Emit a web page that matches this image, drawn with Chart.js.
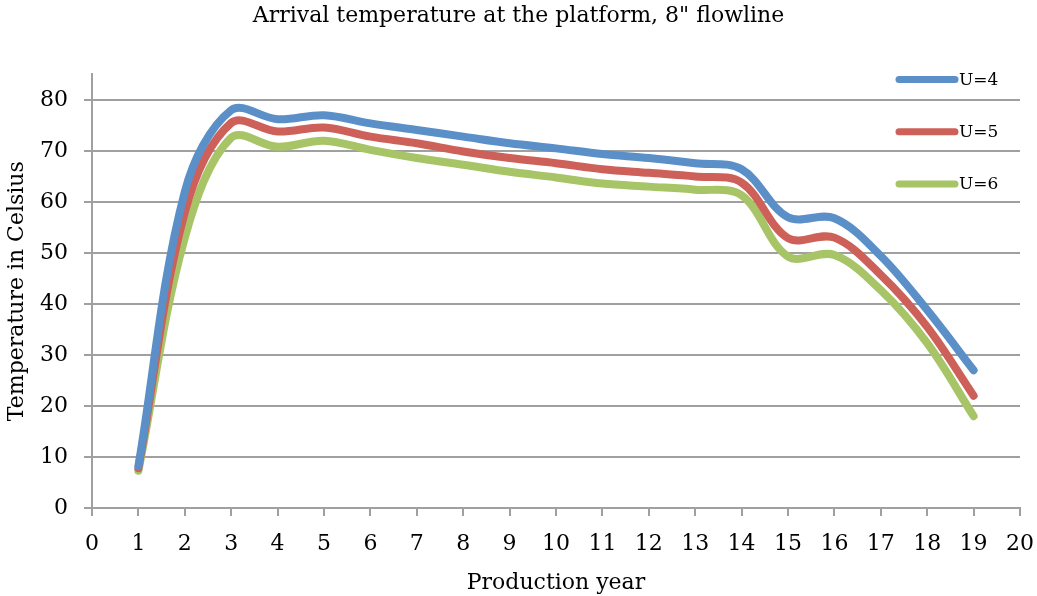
<!DOCTYPE html>
<html>
<head>
<meta charset="utf-8">
<script src="https://cdn.jsdelivr.net/npm/chart.js@4.4.0/dist/chart.umd.min.js"></script>
<style>
  html, body { margin: 0; padding: 0; background: #fff; }
  #wrap { width: 1037px; height: 596px; }
</style>
</head>
<body>
<div id="wrap"><canvas id="chart" width="1037" height="596"></canvas></div>
<script>
// production years and arrival temperatures
var years = [1, 2, 3, 4, 5, 6, 7, 8, 9, 10, 11, 12, 13, 14, 15, 16, 17, 18, 19];
var tempU4 = [8.2, 62, 78, 76.2, 77, 75.4, 74.1, 72.8, 71.5, 70.5, 69.4, 68.6, 67.6, 66.4, 57, 56.8, 49.4, 38.8, 27];
var tempU5 = [7.8, 58, 75.5, 73.8, 74.6, 72.8, 71.5, 69.9, 68.6, 67.6, 66.4, 65.7, 65, 63.8, 52.9, 53, 45.7, 35.5, 22];
var tempU6 = [7.3, 53, 72.6, 70.8, 72, 70.2, 68.6, 67.3, 65.9, 64.8, 63.6, 63, 62.4, 61.3, 49.3, 49.6, 42.7, 32.3, 18];
var seriesNames = ['U=4', 'U=5', 'U=6'];
var seriesColors = ['#5b8fc8', '#cd6159', '#a7c467'];

var FONT = '"DejaVu Serif", serif';
var GRID = '#a0a0a0';

function pts(values) {
    return years.map(function(x, i) { return { x: x, y: values[i] }; });
}

// legend drawn at the upper right, inside the plot like the original
var sideLegend = {
    id: 'sideLegend',
    afterDraw: function(chart) {
        var ctx = chart.ctx;
        var area = chart.chartArea;
        ctx.save();
        chart.data.datasets.forEach(function(ds, i) {
            var y = area.top + 5 + i * 52.3;
            var x0 = area.right - 121;
            ctx.strokeStyle = ds.borderColor;
            ctx.lineWidth = 7;
            ctx.lineCap = 'round';
            ctx.beginPath();
            ctx.moveTo(x0, y);
            ctx.lineTo(x0 + 56, y);
            ctx.stroke();
            ctx.fillStyle = '#000';
            ctx.font = '17px ' + FONT;
            ctx.textBaseline = 'middle';
            ctx.textAlign = 'left';
            ctx.fillText(ds.label, x0 + 60, y + 1);
        });
        ctx.restore();
    }
};

var ctx = document.getElementById('chart').getContext('2d');
var chart = new Chart(ctx, {
    type: 'line',
    data: {
        datasets: [tempU4, tempU5, tempU6].map(function(v, i) {
            return {
                label: seriesNames[i],
                data: pts(v),
                borderColor: seriesColors[i],
                backgroundColor: seriesColors[i],
                borderWidth: 8,
                borderCapStyle: 'round',
                borderJoinStyle: 'round',
                pointRadius: 0,
                tension: 0.35,
                fill: false
            };
        })
    },
    options: {
        responsive: false,
        animation: false,
        layout: { padding: 0 },
        plugins: {
            legend: { display: false },
            tooltip: { enabled: false },
            title: {
                display: true,
                text: 'Arrival temperature at the platform, 8" flowline',
                color: '#000',
                font: { family: FONT, size: 22, weight: 'normal' },
                padding: { top: 3, bottom: 45 }
            }
        },
        scales: {
            x: {
                type: 'linear',
                min: 0,
                max: 20,
                ticks: { stepSize: 1, color: '#000', font: { family: FONT, size: 22 }, padding: 15, maxRotation: 0 },
                grid: { drawOnChartArea: false, color: GRID, lineWidth: 2, tickLength: 8 },
                border: { color: GRID, width: 2 },
                title: {
                    display: true,
                    text: 'Production year',
                    color: '#000',
                    font: { family: FONT, size: 22 },
                    padding: { top: 0, bottom: 0 }
                },
                afterFit: function(s) {
                    s.height = 88;
                    s.paddingLeft = 0;
                    s.paddingRight = 17;
                }
            },
            y: {
                min: 0,
                max: 85,
                bounds: 'data',
                ticks: { stepSize: 10, color: '#000', font: { family: FONT, size: 22 }, padding: 16, includeBounds: false },
                grid: { color: GRID, lineWidth: 2, tickLength: 8 },
                border: { color: GRID, width: 2 },
                title: {
                    display: true,
                    text: 'Temperature in Celsius',
                    color: '#000',
                    font: { family: FONT, size: 22 },
                    padding: { top: 4, bottom: 0 }
                },
                afterBuildTicks: function(s) {
                    s.ticks = s.ticks.filter(function(t) { return t.value <= 80; });
                },
                afterFit: function(s) { s.width = 92; }
            }
        }
    },
    plugins: [sideLegend]
});
</script>
</body>
</html>
